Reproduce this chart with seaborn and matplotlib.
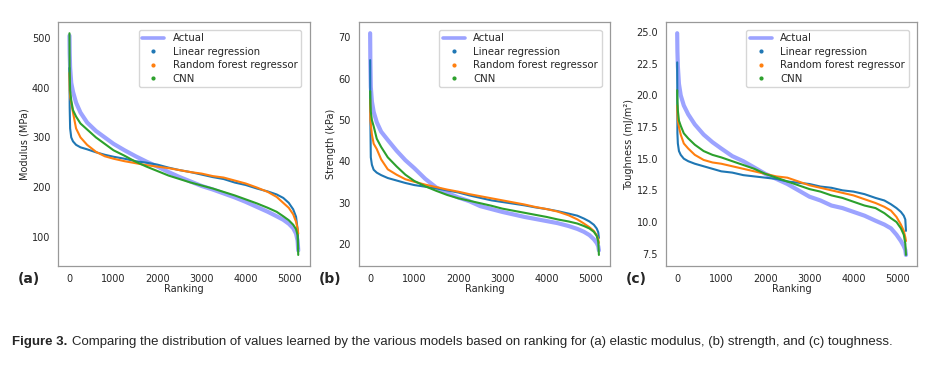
import numpy as np
import pandas as pd
import seaborn as sns
import matplotlib.pyplot as plt
from matplotlib.lines import Line2D

rank = [0, 5, 15, 40, 80, 150, 250, 400, 600, 800, 1000, 1250, 1500, 1750, 2000, 2250,
        2500, 2750, 3000, 3250, 3500, 3750, 4000, 4250, 4500, 4700, 4850, 4975, 5075,
        5140, 5175, 5190]

# (a) modulus, MPa
mod_actual = [505, 470, 440, 410, 392, 370, 350, 330, 313, 300, 287, 274, 262, 251, 241, 230,
              220, 211, 202, 195, 187, 179, 170, 160, 150, 141, 134, 126, 117, 106, 92, 72]
mod_linear = [440, 360, 318, 300, 292, 285, 280, 276, 270, 265, 261, 257, 252, 249, 245, 239,
              234, 230, 225, 220, 216, 209, 204, 197, 191, 185, 178, 168, 155, 140, 115, 75]
mod_forest = [430, 395, 383, 370, 350, 318, 300, 285, 271, 262, 257, 252, 248, 244, 241, 238,
              234, 230, 227, 222, 219, 213, 207, 199, 190, 180, 168, 158, 145, 130, 116, 106]
mod_cnn = [510, 430, 395, 375, 355, 342, 328, 316, 300, 287, 274, 263, 251, 241, 232, 223,
           216, 209, 203, 197, 190, 183, 175, 167, 158, 150, 141, 133, 124, 115, 103, 63]

# (b) strength, kPa
str_actual = [71, 64, 58, 54.5, 52, 49.5, 47.2, 45.2, 42.6, 40.3, 38.4, 35.8, 33.7, 32.4, 31.3, 30.4,
              29.2, 28.5, 27.8, 27.2, 26.6, 26.1, 25.6, 25.1, 24.4, 23.7, 23.0, 22.2, 21.2, 20.3, 19.5, 18.5]
str_linear = [64.5, 50, 41, 39.2, 38, 37.3, 36.7, 36.0, 35.4, 34.8, 34.3, 33.9, 33.5, 33.0, 32.5, 31.8,
              31.2, 30.6, 30.2, 29.8, 29.4, 28.9, 28.5, 28.0, 27.4, 26.9, 26.2, 25.5, 24.7, 23.8, 22.9, 21.5]
str_forest = [55, 50, 49, 46.5, 44.3, 43, 40.5, 38.1, 36.8, 35.7, 35.1, 34.4, 33.8, 33.2, 32.7, 32.1,
              31.6, 31.1, 30.6, 30.1, 29.6, 29.0, 28.5, 27.9, 27.0, 26.0, 25.0, 24.1, 23.2, 22.2, 21.2, 20.3]
str_cnn = [57, 54, 52, 50, 48.5, 45.5, 43.5, 41.0, 38.8, 36.8, 35.3, 34.0, 32.9, 31.9, 31.1, 30.5,
           29.9, 29.3, 28.6, 28.1, 27.6, 27.1, 26.6, 26.0, 25.5, 25.0, 24.4, 23.8, 23.0, 22.0, 20.6, 17.4]

# (c) toughness, mJ/m2
tou_actual = [24.9, 23.5, 22.3, 20.9, 20.0, 19.2, 18.5, 17.7, 16.9, 16.3, 15.8, 15.2, 14.8, 14.3, 13.8, 13.4,
              13.0, 12.5, 12.0, 11.7, 11.3, 11.1, 10.8, 10.5, 10.1, 9.8, 9.5, 9.0, 8.5, 8.1, 7.8, 7.4]
tou_linear = [22.6, 17.0, 16.2, 15.6, 15.3, 15.0, 14.8, 14.6, 14.4, 14.2, 14.0, 13.9, 13.7, 13.6, 13.5, 13.4,
              13.2, 13.1, 13.0, 12.8, 12.7, 12.5, 12.4, 12.2, 11.9, 11.7, 11.4, 11.1, 10.8, 10.5, 10.2, 9.3]
tou_forest = [19.2, 18.6, 18.0, 17.5, 16.9, 16.2, 15.8, 15.3, 14.9, 14.7, 14.6, 14.4, 14.2, 14.0, 13.8, 13.6,
              13.5, 13.2, 12.9, 12.7, 12.5, 12.3, 12.1, 11.8, 11.5, 11.2, 10.9, 10.4, 9.8, 9.3, 8.8, 8.5]
tou_cnn = [20.4, 19.5, 18.8, 18.0, 17.6, 17.0, 16.6, 16.1, 15.6, 15.3, 15.1, 14.8, 14.5, 14.2, 13.8, 13.5,
           13.2, 12.9, 12.6, 12.4, 12.1, 11.9, 11.6, 11.3, 11.1, 10.7, 10.3, 10.0, 9.5, 9.0, 8.3, 7.4]

panels = [
    ("(a)", "Modulus (MPa)", mod_actual, mod_linear, mod_forest, mod_cnn),
    ("(b)", "Strength (kPa)", str_actual, str_linear, str_forest, str_cnn),
    ("(c)", "Toughness (mJ/m\u00b2)", tou_actual, tou_linear, tou_forest, tou_cnn),
]

caption_head = "Figure 3."
caption_body = ("Comparing the distribution of values learned by the various models based on ranking for "
                "(a) elastic modulus, (b) strength, and (c) toughness.")

sns.set_style("white")
plt.rcParams['font.family'] = ['DejaVu Sans']

fig = plt.figure(figsize=(9.39, 3.69), dpi=100)
lefts = [0.0618, 0.382, 0.709]
c_act = "#9ca3ff"
c_lin, c_rf, c_cnn = "#1f77b4", "#ff7f0e", "#2ca02c"

for (tag, ylab, act, lin, rf, cnn), left in zip(panels, lefts):
    ax = fig.add_axes([left, 0.279, 0.268, 0.661])
    df = pd.DataFrame({"Ranking": rank, "actual": act, "linear": lin, "forest": rf, "cnn": cnn})
    sns.lineplot(data=df, x="Ranking", y="actual", ax=ax, color=c_act, lw=3.0, zorder=1)
    sns.lineplot(data=df, x="Ranking", y="linear", ax=ax, color=c_lin, lw=1.5, zorder=2)
    sns.lineplot(data=df, x="Ranking", y="forest", ax=ax, color=c_rf, lw=1.5, zorder=3)
    sns.lineplot(data=df, x="Ranking", y="cnn", ax=ax, color=c_cnn, lw=1.5, zorder=4)
    ax.set_xticks([0, 1000, 2000, 3000, 4000, 5000])
    ax.set_xlabel("Ranking", fontsize=7, labelpad=0)
    ax.set_ylabel(ylab, fontsize=7, labelpad=2)
    ax.tick_params(labelsize=7, pad=2)
    for s in ax.spines.values():
        s.set_color("#999999")
        s.set_linewidth(0.9)
    handles = [
        Line2D([], [], color=c_act, lw=2.6),
        Line2D([], [], color=c_lin, marker=".", ls="none", ms=4),
        Line2D([], [], color=c_rf, marker=".", ls="none", ms=4),
        Line2D([], [], color=c_cnn, marker=".", ls="none", ms=4),
    ]
    ax.legend(handles, ["Actual", "Linear regression", "Random forest regressor", "CNN"],
              loc="upper right", fontsize=7.3, frameon=True, edgecolor="#cccccc",
              borderpad=0.35, labelspacing=0.35, handlelength=2.2, handletextpad=0.8,
              bbox_to_anchor=(0.985, 0.99))
    fig.text(left - 0.043, 0.243, tag, fontsize=10, fontweight="bold", va="center", ha="left")

# caption: measure at a trial size, then scale so it spans the same width as in the reference
cap_font = ["Liberation Sans", "DejaVu Sans"]
cap_y, cap_x0, cap_x1 = 0.073, 0.013, 0.963
gap = 0.005


def put_caption(size):
    t1 = fig.text(cap_x0, cap_y, caption_head, fontsize=size, fontweight="bold", family=cap_font, va="center")
    fig.canvas.draw()
    bb = t1.get_window_extent().transformed(fig.transFigure.inverted())
    t2 = fig.text(bb.x1 + gap, cap_y, caption_body, fontsize=size, family=cap_font, va="center")
    fig.canvas.draw()
    bb2 = t2.get_window_extent().transformed(fig.transFigure.inverted())
    return t1, t2, bb2.x1 - cap_x0


t1, t2, w = put_caption(9.0)
t1.remove()
t2.remove()
put_caption(9.0 * (cap_x1 - cap_x0 - gap) / (w - gap))

fig.savefig("out.png", dpi=100)
